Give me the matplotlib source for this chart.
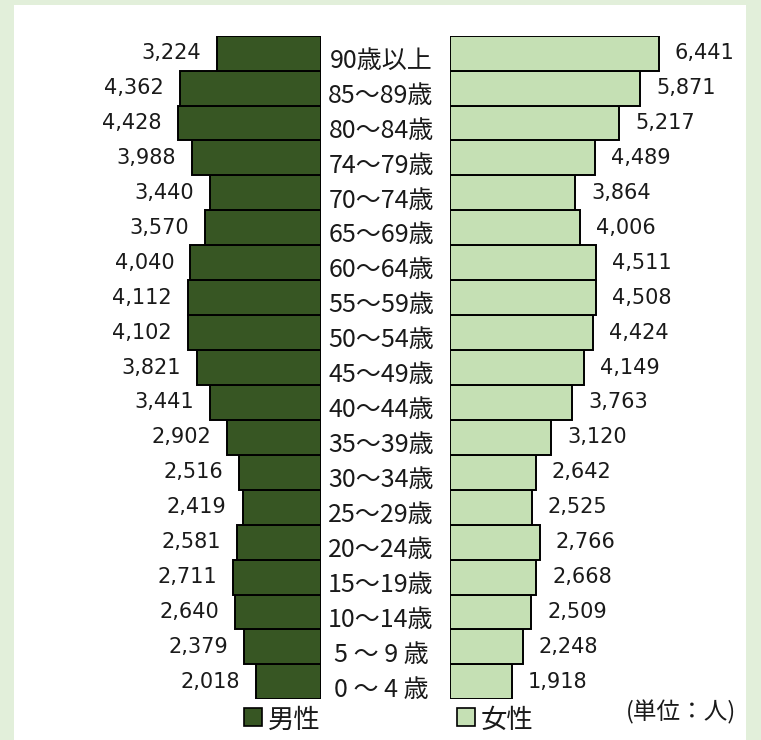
import matplotlib
matplotlib.use("Agg")
import matplotlib.pyplot as plt
from matplotlib.patches import Rectangle
from matplotlib.transforms import blended_transform_factory

W, H, DPI = 761, 740, 100

ages = ["0 ～ 4 歳", "5 ～ 9 歳", "10～14歳", "15～19歳", "20～24歳", "25～29歳",
        "30～34歳", "35～39歳", "40～44歳", "45～49歳", "50～54歳", "55～59歳",
        "60～64歳", "65～69歳", "70～74歳", "74～79歳", "80～84歳", "85～89歳",
        "90歳以上"]
male = [2018, 2379, 2640, 2711, 2581, 2419, 2516, 2902, 3441, 3821,
        4102, 4112, 4040, 3570, 3440, 3988, 4428, 4362, 3224]
female = [1918, 2248, 2509, 2668, 2766, 2525, 2642, 3120, 3763, 4149,
          4424, 4508, 4511, 4006, 3864, 4489, 5217, 5871, 6441]

MALE_COLOR = "#375623"
FEMALE_COLOR = "#c5e0b4"
BG = "#e2efda"
TEXT = "#1a1a1a"
JP = ["Noto Sans CJK JP", "DejaVu Sans"]
NUM = ["DejaVu Sans"]

PX_PER_UNIT = 0.0324


def fx(px):
  return px / W


def fy(py):
  return 1 - py / H


fig = plt.figure(figsize=(W / DPI, H / DPI), dpi=DPI, facecolor=BG)
fig.patches.append(Rectangle((fx(14), 0), fx(746) - fx(14), fy(5),
                             transform=fig.transFigure, facecolor="white",
                             edgecolor="none", zorder=-5))

top_px, bot_px = 35.7, 699.3
ax_bottom = fy(bot_px)
ax_height = (bot_px - top_px) / H

# male side: zero at x=321px, bars grow to the left
m_left, m_right = 14, 321
ax_m = fig.add_axes([fx(m_left), ax_bottom, (m_right - m_left) / W, ax_height])
ax_m.set_xlim((m_right - m_left) / PX_PER_UNIT, 0)

# female side: zero at x=450px
f_left, f_right = 450, 746
ax_f = fig.add_axes([fx(f_left), ax_bottom, (f_right - f_left) / W, ax_height])
ax_f.set_xlim(0, (f_right - f_left) / PX_PER_UNIT)

rows = list(range(len(ages)))
for ax, vals, color in [(ax_m, male, MALE_COLOR), (ax_f, female, FEMALE_COLOR)]:
  ax.barh(rows, vals, height=1.0, color=color, edgecolor="black", linewidth=1.4)
  ax.set_ylim(-0.5, len(ages) - 0.5)
  ax.axis("off")
  ax.patch.set_alpha(0)

for r, v in zip(rows, male):
  ax_m.annotate(f"{v:,}", (v, r), xytext=(-11.5, 0), textcoords="offset points",
                ha="right", va="center", fontsize=15, family=NUM, color=TEXT)
for r, v in zip(rows, female):
  ax_f.annotate(f"{v:,}", (v, r), xytext=(11.5, 0), textcoords="offset points",
                ha="left", va="center", fontsize=15, family=NUM, color=TEXT)

# age labels in the gap, sitting a little below the bar centre
trans = blended_transform_factory(fig.transFigure, ax_m.transData)
for r, lab in zip(rows, ages):
  fig.text(fx(381), r - 0.22, lab, transform=trans, ha="center", va="center",
           fontsize=18, family=JP, color=TEXT)

# legend
for x0, color, label in [(244, MALE_COLOR, "男性"), (457, FEMALE_COLOR, "女性")]:
  fig.patches.append(Rectangle((fx(x0), fy(726)), 18 / W, 18 / H,
                               transform=fig.transFigure, facecolor=color,
                               edgecolor="black", linewidth=1.2))
  fig.text(fx(x0 + 24), fy(720), label, ha="left", va="center",
           fontsize=19, family=JP, color=TEXT)

fig.text(fx(736), fy(712), "(単位：人)", ha="right", va="center",
         fontsize=17, family=JP, color=TEXT)

fig.savefig("out.png", dpi=DPI, facecolor=BG)
